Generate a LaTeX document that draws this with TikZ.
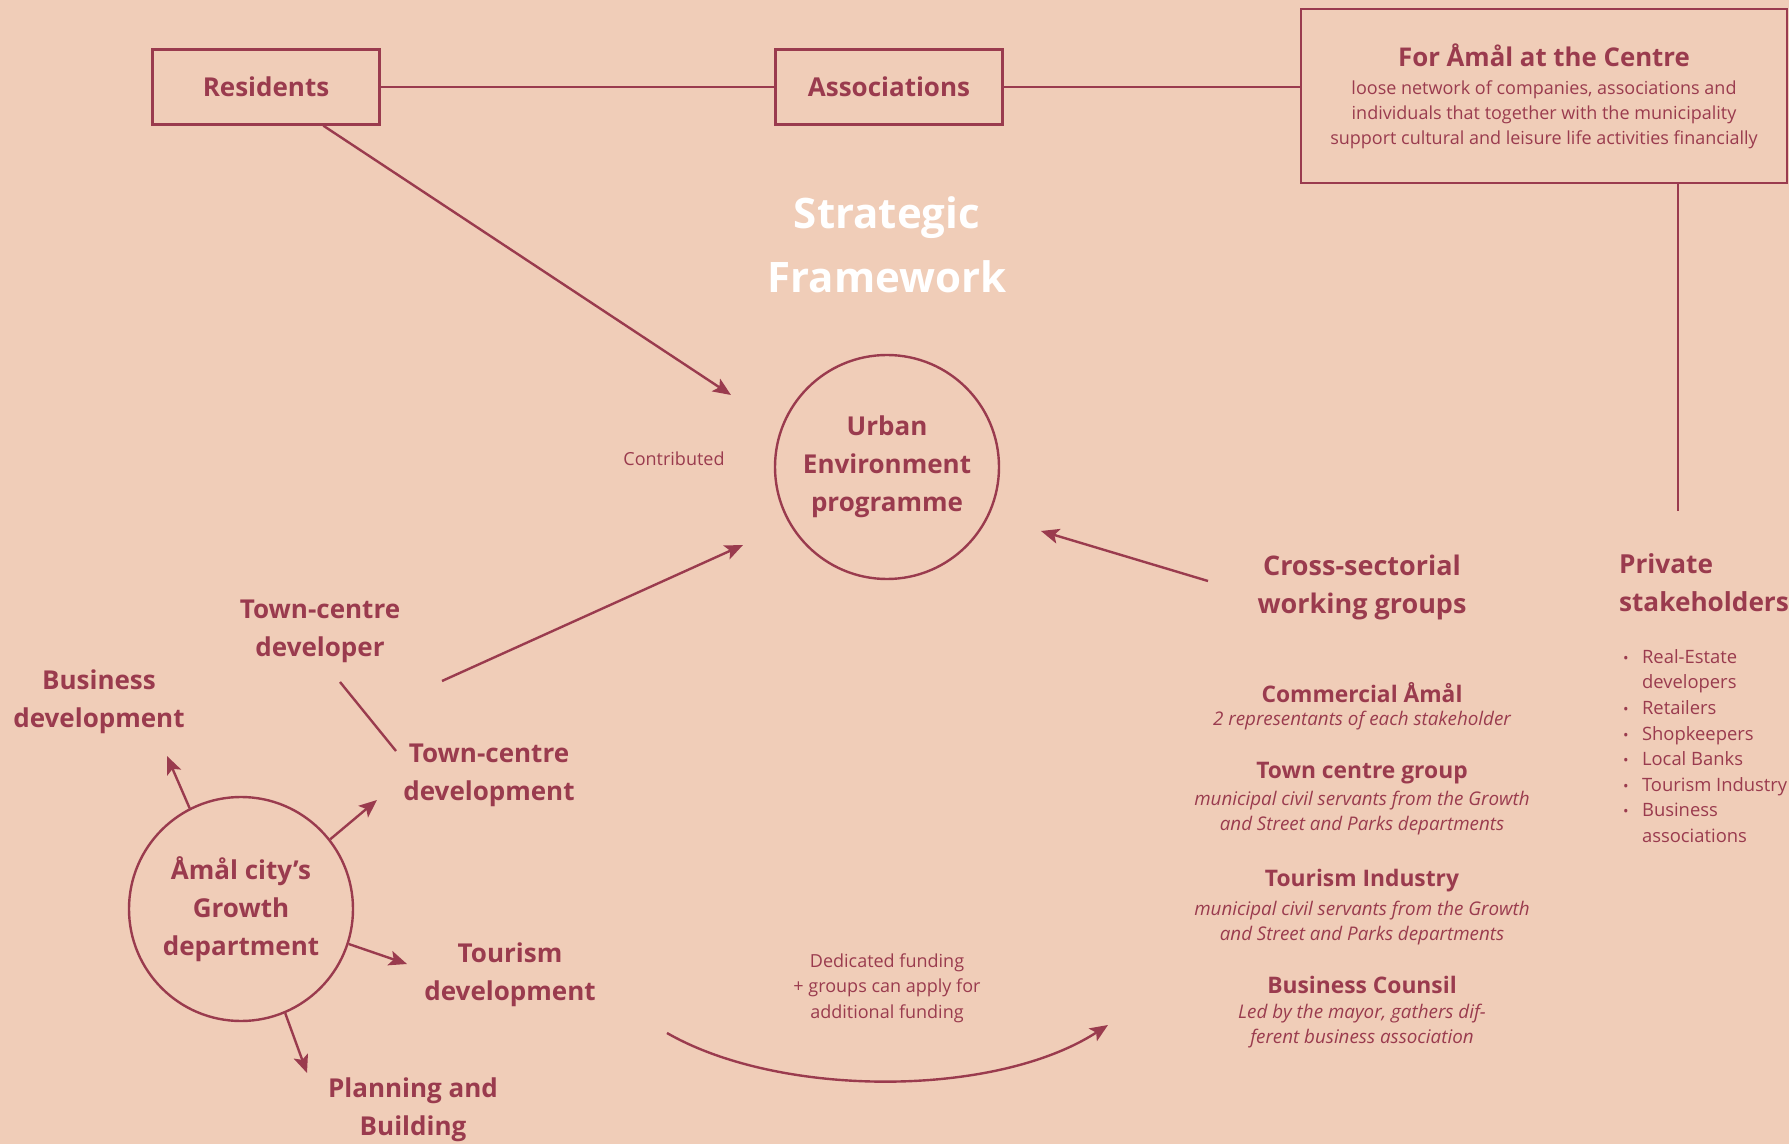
\documentclass[tikz,border=0pt]{standalone}
\usepackage{fontspec}
\setmainfont{Open Sans}
\usetikzlibrary{arrows.meta,calc}
\definecolor{peach}{HTML}{F0CDB8}
\definecolor{wine}{HTML}{9A3B4E}

\begin{document}
\begin{tikzpicture}[x=0.5pt,y=-0.5pt,
  line/.style={wine, line width=1.2pt},
  arr/.style={line, -{Stealth[length=9pt,width=7.5pt,inset=2pt]}},
  box/.style={draw=wine, line width=1.2pt, text=wine, align=center},
  ring/.style={circle, draw=wine, line width=1.2pt, minimum size=112pt, inner sep=0pt,
    align=center, text=wine, font=\fontsize{13}{19}\selectfont\bfseries},
  big/.style={align=center, text=wine, font=\fontsize{13}{19}\selectfont\bfseries},
  group/.style={text=wine, font=\fontsize{11.4}{14}\selectfont\bfseries},
  note/.style={align=center, text=wine, font=\fontsize{9.4}{12.5}\selectfont\itshape},
  small/.style={align=center, text=wine, font=\fontsize{9}{12.7}\selectfont}]

\useasboundingbox (0,0) rectangle (1789,1144);
\fill[peach] (0,0) rectangle (1789,1144);

% top row
\node[box, minimum width=113.5pt, minimum height=37.5pt, font=\fontsize{13}{16}\selectfont\bfseries]
  (res) at (266,87) {Residents};
\node[box, minimum width=113.5pt, minimum height=37.5pt, font=\fontsize{13}{16}\selectfont\bfseries]
  (assoc) at (889,87) {Associations};
\node[box, minimum width=243pt, minimum height=87pt, font=\fontsize{9}{12.5}\selectfont]
  (amal) at (1544,96) {{\fontsize{12.9}{14}\selectfont\bfseries For Åmål at the Centre}\\[1.5pt]
  loose network of companies, associations and\\
  individuals that together with the municipality\\
  support cultural and leisure life activities financially};

\draw[line] (res) -- (assoc);
\draw[line] (assoc.east) -- (assoc.east -| amal.west);
\coordinate (privTop) at (1678,511);
\draw[line] (privTop |- amal.south) -- (privTop);

\node[align=center, white, font=\fontsize{21}{32}\selectfont\bfseries]
  (frame) at (887,245) {Strategic\\Framework};

% centre
\node[ring] (urban) at (887,467) {Urban\\Environment\\programme};
\node[small] (contrib) at (674,459) {Contributed};

\coordinate (resTip) at (731,395);
\coordinate (devFoot) at (442,681);
\coordinate (devTip) at (743,545);
\coordinate (crossFoot) at (1208,581);
\coordinate (crossTip) at (1041,531);
\draw[arr] ($(res.south)!0.5!(res.south east)$) -- (resTip);
\draw[arr] (devFoot) -- (devTip);
\draw[arr] (crossFoot) -- (crossTip);

% growth department
\node[ring] (growth) at (241,909) {Åmål city’s\\Growth\\department};
\node[big] (tcdev) at (320,631) {Town-centre\\developer};
\node[big] (bizdev) at (99,702) {Business\\development};
\node[big] (tcdevt) at (489,775) {Town-centre\\development};
\node[big] (tourdev) at (510,975) {Tourism\\development};
\node[big] (plan) at (413,1110) {Planning and\\Building};

\coordinate (tcA) at (340,682);
\coordinate (tcB) at (396,751);
\draw[line] (tcA) -- (tcB);

\coordinate (bizTip) at (167,756);
\coordinate (tcTip) at (377,800);
\coordinate (tourTip) at (407,964);
\coordinate (planTip) at (307,1073);
\foreach \a/\t in {117/bizTip, 38.5/tcTip, -18.6/tourTip, -67.5/planTip}
  \draw[arr] (growth.\a) -- (\t);

% funding
\node[small] (fund) at (887,988) {Dedicated funding\\+ groups can apply for\\additional funding};
\coordinate (fundStart) at (667,1033);
\coordinate (fundTip) at (1108,1025);
\draw[arr] (fundStart) .. controls (780,1098) and (995,1098) .. (fundTip);

% working groups
\node[align=center, text=wine, font=\fontsize{13.5}{19}\selectfont\bfseries]
  (cross) at (1362,587) {Cross-sectorial\\working groups};
\node[group] (comm) at (1362,693) {Commercial Åmål};
\node[note] (commTxt) at (1362,721) {2 representants of each stakeholder};
\node[group] (town) at (1362,773) {Town centre group};
\node[note] (townTxt) at (1362,813) {municipal civil servants from the Growth\\and Street and Parks departments};
\node[group] (tour) at (1362,881) {Tourism Industry};
\node[note] (tourTxt) at (1362,923) {municipal civil servants from the Growth\\and Street and Parks departments};
\node[group] (counsil) at (1362,985) {Business Counsil};
\node[note] (counsilTxt) at (1362,1026) {Led by the mayor, gathers dif-\\ferent business association};

% private stakeholders
\node[anchor=west, align=left, text=wine, font=\fontsize{13.1}{19}\selectfont\bfseries]
  (priv) at (1612,583) {Private\\stakeholders};
\node[anchor=west, align=left, text=wine, font=\fontsize{9.2}{12.8}\selectfont]
  (privList) at (1616,746) {\makebox[9.5pt][l]{\scalebox{0.8}{\textbullet}}Real-Estate\\
  \hspace*{9.5pt}developers\\
  \makebox[9.5pt][l]{\scalebox{0.8}{\textbullet}}Retailers\\
  \makebox[9.5pt][l]{\scalebox{0.8}{\textbullet}}Shopkeepers\\
  \makebox[9.5pt][l]{\scalebox{0.8}{\textbullet}}Local Banks\\
  \makebox[9.5pt][l]{\scalebox{0.8}{\textbullet}}Tourism Industry\\
  \makebox[9.5pt][l]{\scalebox{0.8}{\textbullet}}Business\\
  \hspace*{9.5pt}associations};

\end{tikzpicture}
\end{document}
